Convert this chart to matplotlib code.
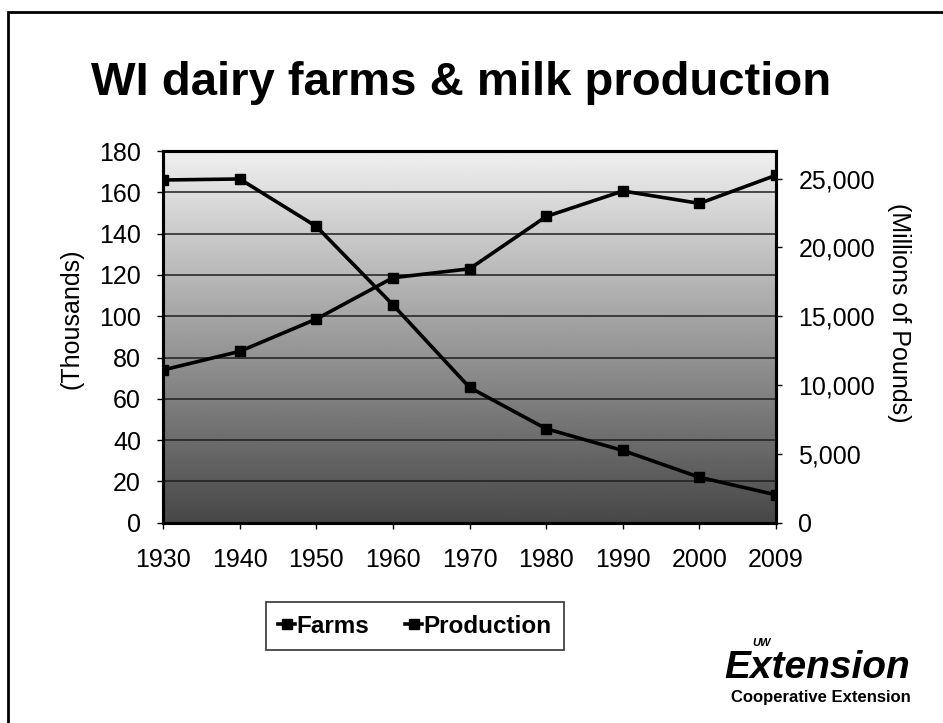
import numpy as np
import matplotlib
matplotlib.use("Agg")
from matplotlib import pyplot as plt
from matplotlib.patches import Rectangle
from matplotlib.lines import Line2D

plt.rcParams['font.family'] = ['Liberation Sans', 'DejaVu Sans']

years = ["1930", "1940", "1950", "1960", "1970", "1980", "1990", "2000", "2009"]
farms = [166, 166.5, 143.5, 105.5, 65.5, 45.5, 35, 22, 13.5]          # thousands
production = [11100, 12450, 14800, 17800, 18450, 22250, 24100, 23200, 25250]  # millions of lbs

fig = plt.figure(figsize=(9.43, 7.23), dpi=100)
ax = fig.add_axes([0.173, 0.277, 0.650, 0.514])
ax2 = ax.twinx()

x = np.arange(len(years))

# gray gradient background of the plot area
grad = np.linspace(0.94, 0.28, 256)[:, None]
ax.imshow(grad, cmap="gray", vmin=0, vmax=1, aspect="auto",
          extent=[0, len(years) - 1, 0, 180], zorder=0)

ax.set_xlim(0, len(years) - 1)
ax.set_ylim(0, 180)
ax.set_yticks(np.arange(0, 181, 20))
ax2.set_ylim(0, 27000)
ax2.set_yticks(np.arange(0, 25001, 5000))
ax2.set_yticklabels([f"{v:,}" for v in range(0, 25001, 5000)])

for yv in range(20, 180, 20):
    ax.axhline(yv, color="#1e1e1e", lw=1.1, zorder=1)

ax.plot(x, farms, color="black", lw=2.6, marker="s", ms=7.5, zorder=3)
ax2.plot(x, production, color="black", lw=2.6, marker="s", ms=7.5, zorder=3)

ax.set_xticks(x)
ax.set_xticklabels(years)
ax.tick_params(axis="x", labelsize=18, length=4, width=1, pad=14, direction="out")
ax.tick_params(axis="y", labelsize=18, length=4, width=1, pad=12, direction="out")
ax2.tick_params(axis="y", labelsize=18, length=4, width=1, pad=12, direction="out")

for sp in ax.spines.values():
    sp.set_linewidth(2.2)
for sp in ax2.spines.values():
    sp.set_linewidth(2.2)

ax.set_ylabel("(Thousands)", fontsize=18)
ax.yaxis.set_label_coords(-0.13, 0.55)
ax2.set_ylabel("(Millions of Pounds)", fontsize=18, rotation=-90, va="center")
ax2.yaxis.set_label_coords(1.2, 0.565)

fig.text(0.489, 0.869, "WI dairy farms & milk production", fontsize=34,
         fontweight="bold", ha="center", va="baseline")

handles = [Line2D([], [], color="black", lw=2.6, marker="s", ms=7),
           Line2D([], [], color="black", lw=2.6, marker="s", ms=7)]
leg = fig.legend(handles, ["Farms", "Production"], loc="center",
                 bbox_to_anchor=(0.440, 0.134), ncol=2, frameon=True,
                 fancybox=False, edgecolor="black", handlelength=0.7,
                 handletextpad=0.05, columnspacing=1.5, borderpad=0.5,
                 prop={"size": 17.5, "weight": "bold"})
leg.get_frame().set_linewidth(1.2)

# logo block
fig.text(0.867, 0.062, "Extension", fontsize=28, fontweight="bold",
         style="italic", ha="center", va="baseline")
fig.text(0.798, 0.106, "UW", fontsize=8, fontweight="bold", style="italic",
         ha="left", va="baseline")
fig.text(0.871, 0.029, "Cooperative Extension", fontsize=12, fontweight="bold",
         ha="center", va="baseline")

# page frame
fig.patches.append(Rectangle((0.0085, -0.1), 1.2, 1.083, transform=fig.transFigure,
                             fill=False, edgecolor="black", lw=2))

fig.savefig("out.png", dpi=100)
